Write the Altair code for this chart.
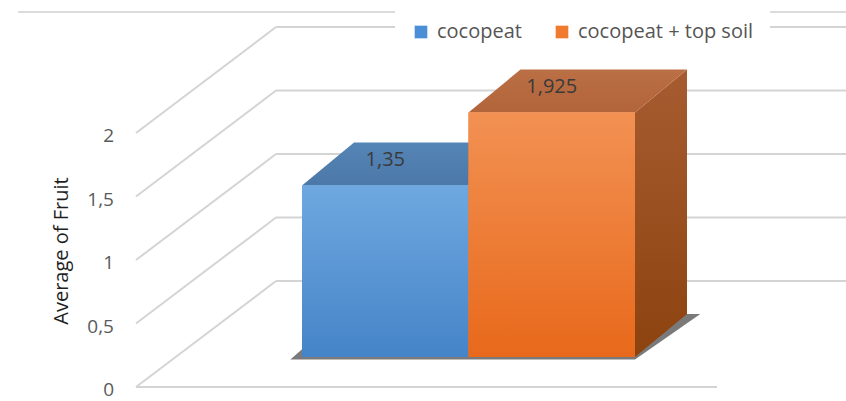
import altair as alt
import pandas as pd

# ---------------- data ----------------
categories = ["cocopeat", "cocopeat + top soil"]
values = [1.35, 1.925]
value_labels = ["1,35", "1,925"]
tick_values = [0, 0.5, 1, 1.5, 2]
tick_labels = ["0", "0,5", "1", "1,5", "2"]
axis_title = "Average of Fruit"

# ---------------- layout constants (pixels) ----------------
W, H = 846, 401
X0_PX = 302.0      # left edge of first bar
SLOT_PX = 166.5    # bar width
BASE_PX = 357.0    # bar base line
UNIT_PX = 127.0    # pixels per value unit


def xu(px):
    return (px - X0_PX) / SLOT_PX


def yu(px):
    return (BASE_PX - px) / UNIT_PX


DX = 52 / SLOT_PX      # bar depth (x)
DY = 43 / UNIT_PX      # bar depth (y)
WALL_FRONT_X = xu(136)
WALL_BACK_X = xu(276)
WALL_FRONT_DV = yu(387)        # front floor edge offset
WALL_BACK_DV = yu(281)         # back wall offset
RIGHT_X = xu(W)
FLOOR_END_X = xu(717)

x_scale = alt.Scale(domain=[xu(0), xu(W)], nice=False, zero=False)
y_scale = alt.Scale(domain=[yu(H), yu(0)], nice=False, zero=False)

FONT = "Open Sans"
legend_colors = ["#4a8ed6", "#f07b2e"]
front_grad = [("#6fa8e0", "#4584c8"), ("#f29153", "#e8691b")]
top_colors = [("#5584b6", "#4b78a8"), ("#bb6f44", "#b2643a")]
side_grad = [("#3f6e9e", "#335c88"), ("#a65c30", "#8d430f")]

bars = pd.DataFrame({
    "cat": categories,
    "i": list(range(len(categories))),
    "v": values,
    "label": value_labels,
})
bars["x0"] = bars["i"].astype(float)
bars["x1"] = bars["x0"] + 1
bars["base"] = 0.0
bars["xc"] = bars["x0"] + 0.5
bars["ly"] = bars["v"] + 26 / UNIT_PX

# top faces (horizontal parallelograms) and side faces
top_rows, side_rows = [], []
for _, r in bars.iterrows():
    top_rows.append({"i": r.i, "yy": r.v, "xa": r.x0, "xb": r.x1})
    top_rows.append({"i": r.i, "yy": r.v + DY, "xa": r.x0 + DX, "xb": r.x1 + DX})
    side_rows.append({"i": r.i, "xx": r.x1, "lo": 0.0, "hi": r.v})
    side_rows.append({"i": r.i, "xx": r.x1 + DX, "lo": DY, "hi": r.v + DY})
tops = pd.DataFrame(top_rows)
sides = pd.DataFrame(side_rows)

# floor shadow
n = len(categories)
shadow = pd.DataFrame([
    {"yy": -0.02, "xa": -0.07, "xb": float(n)},
    {"yy": DY, "xa": DX - 0.07, "xb": n + DX + 0.08},
])

# gridlines: diagonal side wall + horizontal back wall
grid_rows = []
for g in tick_values:
    grid_rows.append({"xa": WALL_FRONT_X, "ya": g + WALL_FRONT_DV,
                      "xb": WALL_BACK_X, "yb": g + WALL_BACK_DV})
    grid_rows.append({"xa": WALL_BACK_X, "ya": g + WALL_BACK_DV,
                      "xb": RIGHT_X, "yb": g + WALL_BACK_DV})
grid_rows.append({"xa": WALL_FRONT_X, "ya": WALL_FRONT_DV,
                  "xb": FLOOR_END_X, "yb": WALL_FRONT_DV})
grid = pd.DataFrame(grid_rows)

ticks = pd.DataFrame({"g": tick_values, "label": tick_labels})
ticks["v"] = ticks["g"] + WALL_FRONT_DV


def grad(c_top, c_bot):
    return alt.Gradient(
        gradient="linear",
        stops=[alt.GradientStop(color=c_top, offset=0),
               alt.GradientStop(color=c_bot, offset=1)],
        x1=0, x2=0, y1=0, y2=1,
    )


X = lambda f: alt.X(f, scale=x_scale, axis=None)
Y = lambda f: alt.Y(f, scale=y_scale, axis=None)

layers = []

# top border line
layers.append(
    alt.Chart(pd.DataFrame({"a": [0]})).mark_rule(color="#d0d0d0", strokeWidth=1.5)
    .encode(x=alt.value(18), x2=alt.value(W), y=alt.value(12))
)

# gridlines
layers.append(
    alt.Chart(grid).mark_rule(color="#d4d4d4", strokeWidth=2)
    .encode(x=X("xa:Q"), y=Y("ya:Q"), x2="xb:Q", y2="yb:Q")
)

# shadow
layers.append(
    alt.Chart(shadow).mark_area(orient="horizontal", color="#4d4d4d", opacity=0.75)
    .encode(y=Y("yy:Q"), x=X("xa:Q"), x2="xb:Q")
)

for i in range(n):
    layers.append(
        alt.Chart(sides).transform_filter(alt.datum.i == i)
        .mark_area(orient="vertical", fill=grad(*side_grad[i]))
        .encode(x=X("xx:Q"), y=Y("hi:Q"), y2="lo:Q")
    )
    layers.append(
        alt.Chart(tops).transform_filter(alt.datum.i == i)
        .mark_area(orient="horizontal", fill=grad(*top_colors[i]))
        .encode(y=Y("yy:Q"), x=X("xa:Q"), x2="xb:Q")
    )
    # front face with legend colour
    layers.append(
        alt.Chart(bars).transform_filter(alt.datum.i == i).mark_rect()
        .encode(
            x=X("x0:Q"), x2="x1:Q", y=Y("v:Q"), y2="base:Q",
            color=alt.Color("cat:N",
                            scale=alt.Scale(domain=categories, range=legend_colors),
                            legend=alt.Legend(title=None)),
        )
    )
    # gradient shading of front face
    layers.append(
        alt.Chart(bars).transform_filter(alt.datum.i == i)
        .mark_rect(fill=grad(*front_grad[i]))
        .encode(x=X("x0:Q"), x2="x1:Q", y=Y("v:Q"), y2="base:Q")
    )

# value labels on top faces
layers.append(
    alt.Chart(bars).mark_text(font=FONT, fontSize=20, color="#3a3a3a",
                              baseline="middle", align="center")
    .encode(x=X("xc:Q"), y=Y("ly:Q"), text="label:N")
)

# y tick labels
layers.append(
    alt.Chart(ticks).mark_text(font=FONT, fontSize=19, color="#5a5a5a",
                               align="right", baseline="middle", dy=3)
    .encode(x=alt.value(114), y=Y("v:Q"), text="label:N")
)

# axis title
layers.append(
    alt.Chart(pd.DataFrame({"t": [axis_title]}))
    .mark_text(font=FONT, fontSize=20, color="#1f1f1f", angle=270,
               align="center", baseline="middle")
    .encode(x=alt.value(62), y=alt.value(251), text="t:N")
)

chart = (
    alt.layer(*layers)
    .properties(width=W, height=H, padding=0,
                autosize=alt.AutoSizeParams(type="none"), background="white")
    .configure_view(stroke=None)
    .configure_legend(
        orient="none", legendX=395, legendY=6, direction="horizontal",
        fillColor="white", padding=16, symbolType="square", symbolSize=160,
        symbolStrokeWidth=0, labelFont=FONT, labelFontSize=20, labelLimit=0,
        labelColor="#555555", labelOffset=6, columnPadding=30,
    )
)

chart.save("out.html", embed_options={"renderer": "svg", "actions": False})
